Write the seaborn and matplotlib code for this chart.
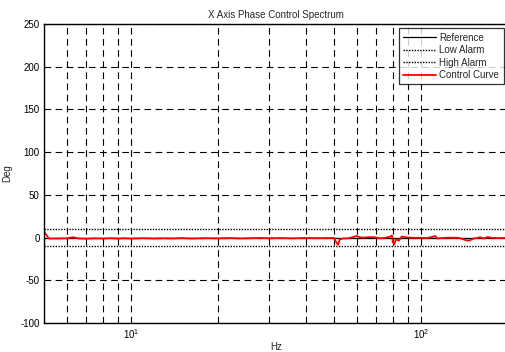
import numpy as np
import pandas as pd
import matplotlib
matplotlib.use("Agg")
import matplotlib.pyplot as plt
import seaborn as sns

# frequencies (Hz) and control-curve phase (deg)
freq_hz = [5.0, 5.1, 5.2, 5.5, 6.0, 6.3, 6.6, 7.0, 7.5, 8.0, 8.5, 9.0, 9.5, 10,
           11, 12, 13, 14, 15, 16, 18, 20, 22, 24, 26, 28, 30, 33, 36, 40, 44,
           48, 50, 51, 51.8, 52.5, 54, 56, 58, 60, 61.5, 63, 66, 69, 72, 75, 78,
           79.5, 80, 81, 82, 84, 86, 88, 92, 96, 100, 105, 110, 112, 114, 118,
           125, 135, 145, 148, 152, 156, 160, 165, 170, 175, 185, 200]
control_deg = [7.5, 3.0, -1.0, -1.0, -0.8, 0.5, -1.0, -1.2, -0.8, -1.0, -0.6,
               -1.0, -0.7, -1.0, -0.6, -1.0, -0.7, -0.9, -0.5, -1.0, -0.6, -0.8,
               -0.5, -0.9, -0.6, -0.4, -0.7, -0.5, -0.8, -0.4, -0.6, -0.5, -0.3,
               -5.0, -8.5, -2.0, -1.0, -0.8, 0.5, 2.0, 0.5, 0.0, 0.5, 0.6, -0.8,
               -0.3, 1.0, 2.5, -5.0, -7.5, -2.0, -3.5, 1.5, 0.5, 0.0, -0.2, -0.1,
               -0.5, 1.0, 2.0, -1.0, -0.5, 0.0, -0.2, -3.5, -3.0, -1.0, -0.6, 0.5,
               -1.0, 0.8, -0.2, -0.5, -0.3]
reference_deg = 0
low_alarm_deg = -10
high_alarm_deg = 10
x_range = [5, 200]
y_ticks = [-100, -50, 0, 50, 100, 150, 200, 250]

sns.set_theme(style="white")
plt.rcParams['font.family'] = ['Liberation Sans', 'DejaVu Sans']
plt.rcParams['mathtext.fontset'] = 'custom'
plt.rcParams['mathtext.rm'] = 'Liberation Sans'
plt.rcParams['mathtext.it'] = 'Liberation Sans'
plt.rcParams['axes.unicode_minus'] = False

df = pd.DataFrame({'Hz': freq_hz, 'Deg': control_deg})
flat = pd.DataFrame({'Hz': x_range})

fig = plt.figure(figsize=(5.05, 3.52), dpi=100)
ax = fig.add_axes([0.087, 0.082, 0.919, 0.850])

sns.lineplot(x=flat['Hz'], y=[reference_deg] * 2, ax=ax, color='black', lw=0.9,
             label='Reference')
sns.lineplot(x=flat['Hz'], y=[low_alarm_deg] * 2, ax=ax, color='black', lw=1.0,
             linestyle=(0, (1, 1)), label='Low Alarm')
sns.lineplot(x=flat['Hz'], y=[high_alarm_deg] * 2, ax=ax, color='black', lw=1.0,
             linestyle=(0, (1, 1)), label='High Alarm')
sns.lineplot(data=df, x='Hz', y='Deg', ax=ax, color='red', lw=1.3,
             label='Control Curve', sort=False)

ax.set_xscale('log')
ax.set_xlim(*x_range)
ax.set_ylim(-100, 250)
ax.set_yticks(y_ticks)
ax.grid(True, which='both', axis='x', color='black', lw=0.8, linestyle=(0, (6, 4)))
ax.grid(True, which='major', axis='y', color='black', lw=0.8, linestyle=(0, (6, 4)))

ax.tick_params(which='both', direction='in', labelsize=7, colors='black',
               top=False, right=False, pad=3)
ax.tick_params(which='major', length=3, width=0.7)
ax.tick_params(which='minor', length=2, width=0.7, bottom=True)
for s in ax.spines.values():
    s.set_color('black')
    s.set_linewidth(1.0)

ax.set_title('X Axis Phase Control Spectrum', fontsize=7, pad=4)
ax.set_xlabel('Hz', fontsize=7, labelpad=1)
ax.set_ylabel('Deg', fontsize=7, labelpad=6)

leg = ax.legend(loc='upper right', fontsize=7, frameon=True, fancybox=False,
                borderaxespad=0.45, handlelength=3.4, handletextpad=0.3,
                labelspacing=0.25, borderpad=0.45)
leg.get_frame().set_edgecolor('black')
leg.get_frame().set_linewidth(0.9)

fig.savefig('out.png', dpi=100)
